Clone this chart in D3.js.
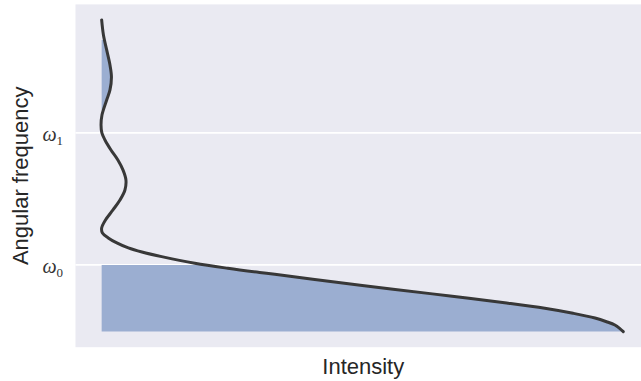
<!DOCTYPE html>
<html>
<head>
<meta charset="utf-8">
<script src="https://cdn.jsdelivr.net/npm/d3@7"></script>
<style>
  html, body { margin: 0; padding: 0; background: #ffffff; }
  svg { display: block; }
</style>
</head>
<body>
<div id="chart"></div>
<script>
// ---- data ----
// angular frequency (data units, ω0 = 1, ω1 = 2), from top to bottom
const frequency = [2.856, 2.742, 2.629, 2.515, 2.424, 2.326, 2.250, 2.136, 2.061, 2.000,
  1.947, 1.871, 1.795, 1.720, 1.644, 1.568, 1.492, 1.417, 1.341, 1.280, 1.242, 1.205,
  1.167, 1.129, 1.098, 1.063, 1.013, 0.975, 0.943, 0.929, 0.879, 0.816, 0.765, 0.712,
  0.672, 0.634, 0.598, 0.570, 0.545, 0.520, 0.495];
// intensity at each frequency
const intensity = [0.000, 0.0034, 0.0096, 0.0159, 0.0187, 0.0159, 0.0096, 0.0006, -0.0012, 0.0004,
  0.0063, 0.0178, 0.031, 0.0407, 0.0464, 0.0445, 0.035, 0.0216, 0.0073, 0.0, 0.0015, 0.0126,
  0.029, 0.051, 0.077, 0.1147, 0.178, 0.241, 0.302, 0.331, 0.430, 0.557, 0.666, 0.774,
  0.847, 0.901, 0.943, 0.965, 0.981, 0.990, 0.997];
// shaded frequency bands [low, high]
const bandLow = [0.40, 2.174];
const bandHigh = [1.000, 2.705];
// y ticks
const tickValues = [1, 2];
const tickLabels = ["0", "1"];   // subscripts of ω
const xLabel = "Intensity";
const yLabel = "Angular frequency";

// ---- layout ----
const W = 641, H = 381;
const svg = d3.select("#chart").append("svg").attr("width", W).attr("height", H);

const x = d3.scaleLinear().domain([-0.05, 1.05]).range([75.5, 651]);
const y = d3.scaleLinear().domain([0.377, 2.974]).range([347.2, 4.4]);

// axes background
svg.append("rect")
  .attr("x", x.range()[0]).attr("y", y.range()[1])
  .attr("width", x.range()[1] - x.range()[0])
  .attr("height", y.range()[0] - y.range()[1])
  .attr("fill", "#EAEAF2");

// gridlines
svg.append("g").selectAll("line").data(tickValues).join("line")
  .attr("x1", x.range()[0]).attr("x2", x.range()[1])
  .attr("y1", d => y(d)).attr("y2", d => y(d))
  .attr("stroke", "#ffffff").attr("stroke-width", 1.8);

// tick labels
const tl = svg.append("g").selectAll("text").data(tickValues).join("text")
  .attr("x", 63).attr("y", d => y(d) + 8.5)
  .attr("text-anchor", "end")
  .attr("fill", "#333333")
  .style("font-family", "'Liberation Serif', 'DejaVu Serif', serif")
  .style("font-style", "italic")
  .style("font-size", "20px");
tl.append("tspan").text("ω");
tl.append("tspan").attr("dy", 3.5).style("font-size", "13px").style("font-style", "normal")
  .text((d, i) => tickLabels[i]);

const pts = frequency.map((f, i) => ({ f: f, v: intensity[i] }));

// shaded bands
const defs = svg.append("defs");
bandLow.forEach((lo, i) => {
  defs.append("clipPath").attr("id", "band" + i)
    .append("rect")
    .attr("x", x.range()[0]).attr("width", x.range()[1] - x.range()[0])
    .attr("y", y(bandHigh[i])).attr("height", y(lo) - y(bandHigh[i]));
});
const area = d3.area()
  .y(d => y(d.f))
  .x0(x(0))
  .x1(d => x(d.v))
  .curve(d3.curveCatmullRom.alpha(0.5));
bandLow.forEach((lo, i) => {
  svg.append("path")
    .attr("d", area(pts))
    .attr("fill", "#9BAED1")
    .attr("clip-path", "url(#band" + i + ")");
});

// spectrum line
const line = d3.line()
  .y(d => y(d.f))
  .x(d => x(d.v))
  .curve(d3.curveCatmullRom.alpha(0.5));
svg.append("path")
  .attr("d", line(pts))
  .attr("fill", "none")
  .attr("stroke", "#383838")
  .attr("stroke-width", 3)
  .attr("stroke-linecap", "round")
  .attr("stroke-linejoin", "round");

// axis labels
svg.append("text")
  .attr("x", (x.range()[0] + x.range()[1]) / 2).attr("y", 374)
  .attr("text-anchor", "middle")
  .attr("fill", "#262626")
  .style("font-family", "'Liberation Sans', Arial, sans-serif")
  .style("font-size", "22px")
  .text(xLabel);

svg.append("text")
  .attr("transform", `translate(28,${(y.range()[0] + y.range()[1]) / 2}) rotate(-90)`)
  .attr("text-anchor", "middle")
  .attr("fill", "#262626")
  .style("font-family", "'Liberation Sans', Arial, sans-serif")
  .style("font-size", "22px")
  .text(yLabel);
</script>
</body>
</html>
